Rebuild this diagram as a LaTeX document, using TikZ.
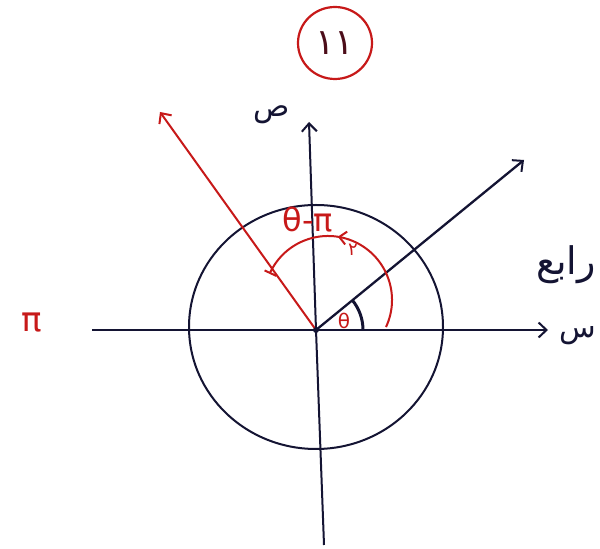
\documentclass[tikz,border=0pt]{standalone}
\usepackage{fontspec}
\setmainfont{DejaVu Sans}
\newfontfamily\arabicfont[Script=Arabic]{DejaVu Sans}
\TeXXeTstate=1
\usetikzlibrary{arrows.meta,decorations.markings}
\definecolor{ink}{rgb}{0.08,0.08,0.2}
\definecolor{redink}{rgb}{0.78,0.1,0.1}
\definecolor{darkred}{rgb}{0.3,0.05,0.1}
\begin{document}
\begin{tikzpicture}[x=1pt,y=1pt,
  tip/.style={-{Straight Barb[length=8pt,width=15pt,line width=2pt]}},
  axisline/.style={ink,line width=2pt},
  blackvec/.style={ink,line width=2.3pt,tip},
  redvec/.style={redink,line width=2pt,tip},
  redline/.style={redink,line width=2pt},
  redlabel/.style={redink,font=\fontsize{26}{30}\selectfont},
  inklabel/.style={ink,font=\arabicfont\fontsize{30}{34}\selectfont}]
\useasboundingbox (0,0) rectangle (600,549);
\fill[white] (0,0) rectangle (600,549);
% key points
\coordinate (O) at (316,219);
\coordinate (Cc) at (316,222);
\coordinate (Xl) at (92,219);
\coordinate (Xr) at (548,219);
\coordinate (Yb) at (324,4);
\coordinate (Yt) at (309,427);
\coordinate (B) at (524,389);
\coordinate (R) at (160,437);
\coordinate (Ca) at (328,249);
% circle
\draw[axisline] (Cc) ellipse [x radius=127, y radius=122];
% axes
\draw[axisline] (Xl) -- (O);
\draw[axisline,tip] (O) -- (Xr);
\draw[axisline] (Yb) -- (O);
\draw[axisline,tip] (O) -- (Yt);
% vectors
\draw[blackvec] (O) -- (B);
\draw[redvec] (O) -- (R);
% red arc with arrow
\draw[redline,postaction={decorate},
  decoration={markings,mark=at position 0.59 with {\arrow{Straight Barb[length=7pt,width=13pt,line width=2pt]}}}]
  ([shift={(-25:64)}]Ca) arc[start angle=-25,end angle=155,radius=64];
% small tick at arc end
\draw[redline] ([shift={(155:57)}]Ca) -- ([shift={(155:70)}]Ca);
% black angle arc
\draw[ink,line width=3pt] ([shift={(0:47)}]O) arc[start angle=0,end angle=39,radius=47];
\fill[ink] (O) circle (3);
% labels
\node[redlabel] (th) at (344,228) {\fontsize{20}{22}\selectfont θ};
\node[redlabel,font=\fontsize{32}{36}\selectfont] (thpi) at (308,329) {θ-π};
\node[redlabel] (two) at (353,299) {\arabicfont\fontsize{18}{20}\selectfont\beginR ٢\endR};
\node[redlabel] (pi) at (32,226) {\fontsize{34}{38}\selectfont π};
\node[inklabel] (ylab) at (272,434) {\beginR ص\endR};
\node[inklabel] (xlab) at (578,213) {\beginR س\endR};
\node[inklabel,font=\arabicfont\fontsize{38}{42}\selectfont] (quad) at (566,284) {\beginR رابع\endR};
% circled number
\draw[redink,line width=2.2pt] (335,506) ellipse [x radius=37, y radius=36];
\node[font=\arabicfont\fontsize{36}{40}\selectfont,text=darkred] (num) at (335,506) {\beginR ١١\endR};
\end{tikzpicture}
\end{document}
